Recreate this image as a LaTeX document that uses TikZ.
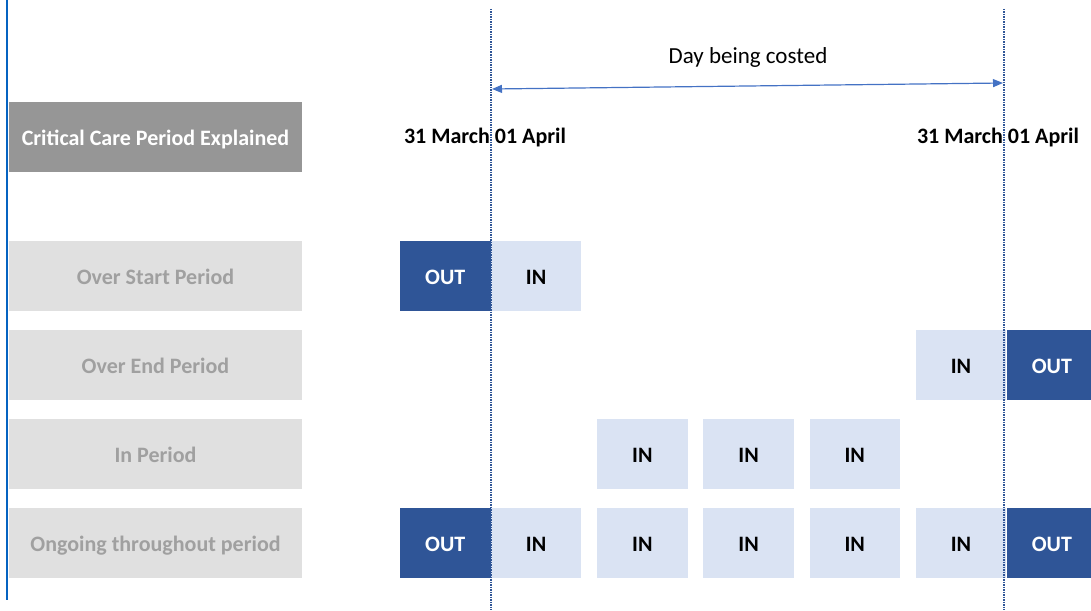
\documentclass[tikz,border=0pt]{standalone}
\usepackage{fontspec}
\setmainfont{Carlito}
\usetikzlibrary{positioning, arrows.meta}
\definecolor{outblue}{HTML}{2F5597}
\definecolor{inblue}{HTML}{DAE3F3}
\definecolor{rowgrey}{HTML}{E0E0E0}
\definecolor{rowtext}{HTML}{A0A0A0}
\definecolor{headgrey}{HTML}{969696}
\definecolor{lineblue}{HTML}{4472C4}
\definecolor{edgeblue}{HTML}{0563C1}
\tikzset{
    x=1pt, y=-1pt, % one unit is one pixel of the drawing, y runs down
    rowlabel/.style={fill=rowgrey, text=rowtext, font=\bfseries\fontsize{22}{26}\selectfont,
        minimum width=293pt, minimum height=70pt, inner sep=0pt, text depth=0pt, text height=17pt}, % grey row headings
    headlabel/.style={rowlabel, fill=headgrey, text=white}, % dark title box
    outday/.style={fill=outblue, text=white, font=\bfseries\fontsize{22}{26}\selectfont,
        minimum width=90.5pt, minimum height=70pt, inner sep=0pt, text depth=0pt, text height=17pt}, % day outside the period
    inday/.style={outday, fill=inblue, text=black}, % day inside the period
    datelabel/.style={font=\bfseries\fontsize{22}{26}\selectfont}, % midnight dates
    cutoff/.style={outblue, line width=1.6pt, dash pattern=on 1.5pt off 1pt}, % dotted day edges
    node distance=15.3pt,
}
\begin{document}
\begin{tikzpicture}
    \useasboundingbox (0,0) rectangle (1091,610);
    % left border
    \coordinate (edgeT) at (7,0);
    \coordinate (edgeB) at (7,600);
    \draw[edgeblue, line width=2.5pt] (edgeT) -- (edgeB);

    % headings
    \node[headlabel] (title) at (155.5,136.5) {Critical Care Period Explained};
    \node[rowlabel] (ongoing) at (155.5,543) {Ongoing throughout period};
    \node[rowlabel, above=18.7pt of ongoing] (inper) {In Period};
    \node[rowlabel, above=18.7pt of inper] (overend) {Over End Period};
    \node[rowlabel, above=18.7pt of overend] (overstart) {Over Start Period};

    % ongoing row
    \node[outday] (o1) at (445.25,543) {OUT};
    \node[inday, right=0pt of o1] (o2) {IN};
    \node[inday, right=of o2] (o3) {IN};
    \node[inday, right=of o3] (o4) {IN};
    \node[inday, right=of o4] (o5) {IN};
    \node[inday, right=of o5] (o6) {IN};
    \node[outday, right=0pt of o6] (o7) {OUT};

    % over start row
    \node[outday] (s1) at (o1 |- overstart) {OUT};
    \node[inday] (s2) at (o2 |- overstart) {IN};

    % over end row
    \node[inday] (e6) at (o6 |- overend) {IN};
    \node[outday] (e7) at (o7 |- overend) {OUT};

    % in period row
    \node[inday] (p3) at (o3 |- inper) {IN};
    \node[inday] (p4) at (o4 |- inper) {IN};
    \node[inday] (p5) at (o5 |- inper) {IN};

    % dates
    \node[datelabel] (dateL) at (485,138) {31 March 01 April};
    \node[datelabel] (dateR) at (998,138) {31 March 01 April};

    % day edges
    \coordinate (cutLT) at (491,9);
    \coordinate (cutLB) at (491,610);
    \coordinate (cutRT) at (1004,9);
    \coordinate (cutRB) at (1004,610);
    \draw[cutoff] (cutLT) -- (cutLB);
    \draw[cutoff] (cutRT) -- (cutRB);

    % costed day
    \coordinate (arrL) at (492,89);
    \coordinate (arrR) at (1003,83);
    \draw[lineblue, line width=1.2pt, {Triangle[length=10pt,width=8pt]}-{Triangle[length=10pt,width=8pt]}] (arrL) -- (arrR);
    \node[font=\fontsize{23}{27}\selectfont] (costed) at (748,57) {Day being costed};
\end{tikzpicture}
\end{document}
